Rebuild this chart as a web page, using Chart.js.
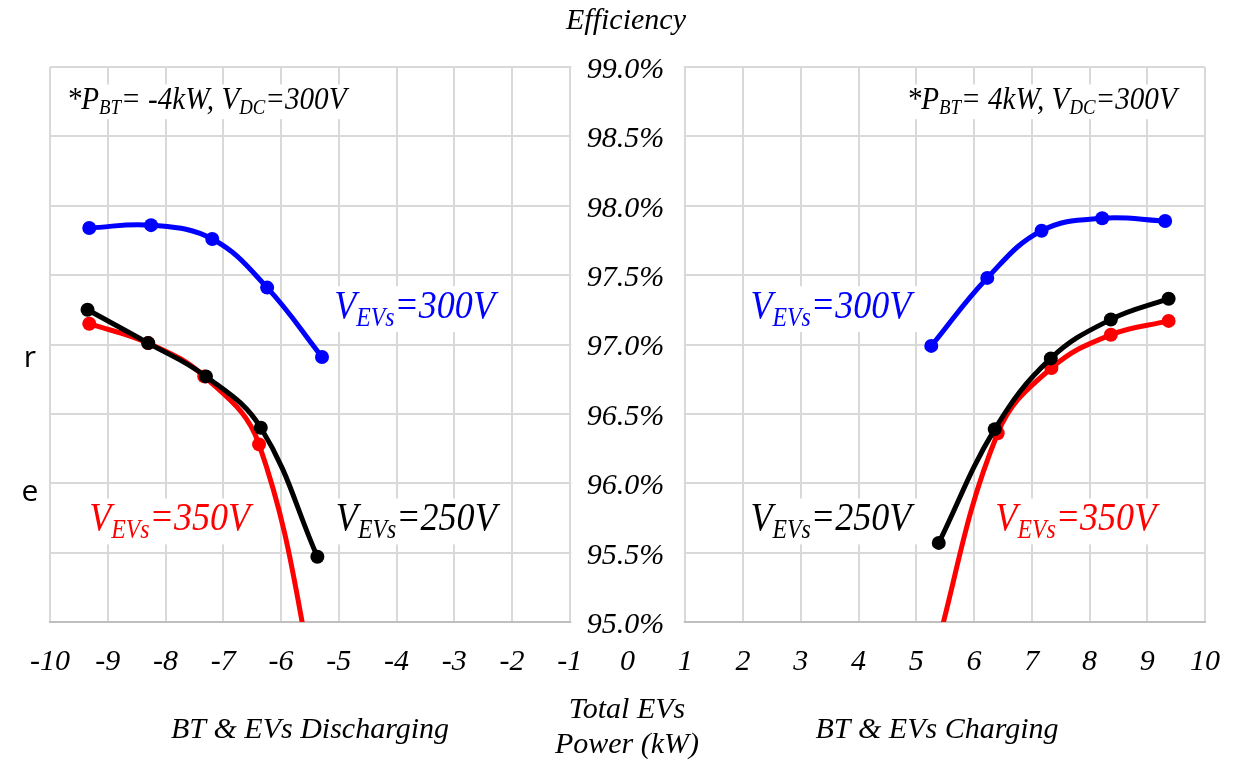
<!DOCTYPE html>
<html>
<head>
<meta charset="utf-8">
<script src="https://cdn.jsdelivr.net/npm/chart.js@4/dist/chart.umd.min.js"></script>
<style>
  html, body { margin: 0; padding: 0; background: #fff; }
  #wrap { width: 1242px; height: 762px; }
</style>
</head>
<body>
<div id="wrap"><canvas id="chart"></canvas></div>
<script>
// Efficiency (%) vs total EVs power (kW)
const yTicks = [95.0, 95.5, 96.0, 96.5, 97.0, 97.5, 98.0, 98.5, 99.0];

// Discharging side (negative power)
const disX300 = [-9.32, -8.25, -7.19, -6.24, -5.29];
const disY300 = [97.84, 97.86, 97.76, 97.41, 96.91];
const disX250 = [-9.35, -8.30, -7.30, -6.35, -5.37];
const disY250 = [97.25, 97.01, 96.77, 96.40, 95.47];
const disX350 = [-9.32, -8.30, -7.33, -6.38, -5.32];
const disY350 = [97.15, 97.01, 96.77, 96.28, 94.35];

// Charging side (positive power)
const chX300 = [5.26, 6.23, 7.17, 8.22, 9.31];
const chY300 = [96.99, 97.48, 97.82, 97.91, 97.89];
const chX250 = [5.39, 6.36, 7.33, 8.37, 9.37];
const chY250 = [95.57, 96.39, 96.90, 97.18, 97.33];
const chX350 = [5.28, 6.41, 7.34, 8.37, 9.37];
const chY350 = [94.70, 96.36, 96.83, 97.07, 97.17];

const BLUE = '#0000ff', BLACK = '#000000', RED = '#ff0000';
const SERIF = '"Liberation Serif", "Times New Roman", serif';

function pts(xs, ys) {
    return xs.map((x, i) => ({ x: x, y: ys[i] }));
}

function series(xs, ys, color) {
    return {
        data: pts(xs, ys),
        showLine: true,
        borderColor: color,
        backgroundColor: color,
        borderWidth: 5,
        pointRadius: 7,
        pointBorderWidth: 0,
        tension: 0.4
    };
}

// labels in data coordinates: [parts, x, y, color]
const curveLabels = [
    [[['V', 0], ['EVs', 1], ['=300V', 0]], -5.08, 97.19, BLUE],
    [[['V', 0], ['EVs', 1], ['=300V', 0]], 2.13, 97.19, BLUE],
    [[['V', 0], ['EVs', 1], ['=350V', 0]], -9.32, 95.66, RED],
    [[['V', 0], ['EVs', 1], ['=350V', 0]], 6.37, 95.66, RED],
    [[['V', 0], ['EVs', 1], ['=250V', 0]], -5.05, 95.66, BLACK],
    [[['V', 0], ['EVs', 1], ['=250V', 0]], 2.13, 95.66, BLACK]
];
const noteLabels = [
    [[['*P', 0], ['BT', 1], ['= -4kW, V', 0], ['DC', 1], ['=300V', 0]], -9.71, 98.70, 'left'],
    [[['*P', 0], ['BT', 1], ['= 4kW, V', 0], ['DC', 1], ['=300V', 0]], 9.51, 98.70, 'right']
];

function richWidth(ctx, parts, size) {
    let w = 0;
    parts.forEach(p => {
        ctx.font = 'italic ' + (p[1] ? Math.round(size * 0.66) : size) + 'px ' + SERIF;
        w += ctx.measureText(p[0]).width;
    });
    return w;
}

// text with subscripts, squeezed horizontally by sx (narrow Times look)
function drawRich(ctx, parts, x, y, size, color, align, sx) {
    const w = richWidth(ctx, parts, size) * sx;
    const left = align === 'right' ? x - w : x;
    ctx.fillStyle = '#fff';
    ctx.fillRect(left - 6, y - size * 0.78, w + 12, size * 1.12);
    ctx.save();
    ctx.translate(left, y);
    ctx.scale(sx, 1);
    ctx.fillStyle = color;
    ctx.textAlign = 'left';
    ctx.textBaseline = 'alphabetic';
    let cx = 0;
    parts.forEach(p => {
        const s = p[1] ? Math.round(size * 0.66) : size;
        ctx.font = 'italic ' + s + 'px ' + SERIF;
        ctx.fillText(p[0], cx, p[1] ? size * 0.18 : 0);
        cx += ctx.measureText(p[0]).width;
    });
    ctx.restore();
}

const overlay = {
    id: 'overlay',
    beforeDatasetsDraw(chart) {
        const ctx = chart.ctx;
        const xs = chart.scales.x, ys = chart.scales.y;
        const area = chart.chartArea;
        ctx.save();
        // blank band between -1 and 1 holding the value axis labels
        const gl = xs.getPixelForValue(-1) + 1.5;
        const gr = xs.getPixelForValue(1) - 1.5;
        ctx.fillStyle = '#fff';
        ctx.fillRect(gl, area.top - 3, gr - gl, area.bottom - area.top + 6);
        ctx.fillStyle = '#000';
        ctx.font = 'italic 30px ' + SERIF;
        ctx.textAlign = 'center';
        ctx.textBaseline = 'middle';
        const x0 = xs.getPixelForValue(0) - 2;
        yTicks.forEach(v => {
            ctx.fillText(v.toFixed(1) + '%', x0, ys.getPixelForValue(v) + 3);
        });
        noteLabels.forEach(l => {
            drawRich(ctx, l[0], xs.getPixelForValue(l[1]), ys.getPixelForValue(l[2]), 31, '#000', l[3], 0.94);
        });
        curveLabels.forEach(l => {
            drawRich(ctx, l[0], xs.getPixelForValue(l[1]), ys.getPixelForValue(l[2]), 41, l[3], 'left', 0.88);
        });
        ctx.restore();
    },
    afterDraw(chart) {
        const ctx = chart.ctx;
        ctx.save();
        ctx.fillStyle = '#000';
        ctx.textAlign = 'center';
        ctx.textBaseline = 'middle';
        ctx.font = 'italic 30px ' + SERIF;
        ctx.fillText('Efficiency', 626, 21);
        ctx.fillText('Total EVs', 627, 710);
        ctx.fillText('Power (kW)', 627, 745);
        ctx.fillText('BT & EVs Discharging', 310, 730);
        ctx.fillText('BT & EVs Charging', 937, 730);
        // cut-off text from the neighbouring panel
        ctx.font = '30px "Open Sans", sans-serif';
        ctx.fillText('r', 30, 358);
        ctx.fillText('e', 30, 492);
        ctx.restore();
    }
};

new Chart(document.getElementById('chart'), {
    type: 'scatter',
    data: {
        datasets: [
            series(disX300, disY300, BLUE),
            series(disX250, disY250, BLACK),
            series(disX350, disY350, RED),
            series(chX300, chY300, BLUE),
            series(chX250, chY250, BLACK),
            series(chX350, chY350, RED)
        ]
    },
    options: {
        responsive: true,
        maintainAspectRatio: false,
        animation: false,
        layout: { padding: { left: 50, right: 35, top: 67, bottom: 60 } },
        plugins: {
            legend: { display: false },
            tooltip: { enabled: false }
        },
        scales: {
            x: {
                type: 'linear',
                min: -10,
                max: 10,
                grid: { color: '#d9d9d9', lineWidth: 2, drawTicks: false },
                border: { display: true, color: '#bfbfbf', width: 2 },
                ticks: {
                    stepSize: 1,
                    padding: 22,
                    color: '#000',
                    maxRotation: 0,
                    font: { family: SERIF, size: 30, style: 'italic' }
                }
            },
            y: {
                min: 95,
                max: 99,
                grid: { color: '#d9d9d9', lineWidth: 2, drawTicks: false },
                border: { display: false },
                ticks: { stepSize: 0.5, display: false }
            }
        }
    },
    plugins: [overlay]
});
</script>
</body>
</html>
